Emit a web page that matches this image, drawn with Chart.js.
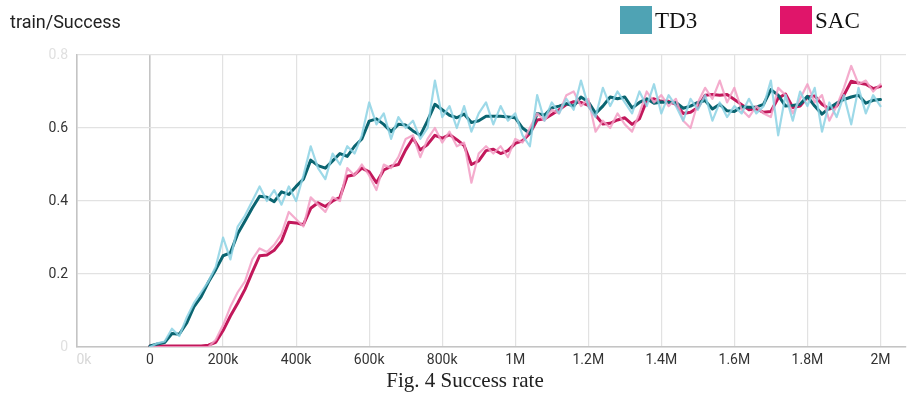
<!DOCTYPE html>
<html>
<head>
<meta charset="utf-8">
<script src="https://cdn.jsdelivr.net/npm/chart.js@4"></script>
<style>
  html, body { margin: 0; padding: 0; background: #fff; }
  body { width: 910px; height: 394px; position: relative; overflow: hidden; }
  #wrap { position: absolute; left: 0; top: 0; width: 910px; height: 394px; }
  #title { position: absolute; left: 10px; top: 11px; font: 18px Roboto, sans-serif; color: #222; line-height: 22px; }
  .leg { position: absolute; top: 6px; height: 30px; font: 23px "Liberation Serif", "Times New Roman", serif; color: #111; line-height: 30px; }
  .leg span { display: inline-block; width: 32px; height: 28px; vertical-align: top; margin-right: 3px; }
  #caption { position: absolute; left: 0; width: 930px; text-align: center; top: 368px; font: 21px "Liberation Serif", "Times New Roman", serif; color: #222; line-height: 24px; }
</style>
</head>
<body>
<div id="wrap"><canvas id="c" width="910" height="394"></canvas></div>
<div id="title">train/Success</div>
<div class="leg" style="left:620px"><span style="background:#4fa3b4"></span>TD3</div>
<div class="leg" style="left:780px"><span style="background:#e0156a"></span>SAC</div>
<div id="caption">Fig. 4 Success rate</div>
<script>
// Training step (thousands)
const stepsK = [0,20,40,60,80,100,120,140,160,180,200,220,240,260,280,300,320,340,360,380,
  400,420,440,460,480,500,520,540,560,580,600,620,640,660,680,700,720,740,760,780,
  800,820,840,860,880,900,920,940,960,980,1000,1020,1040,1060,1080,1100,1120,1140,1160,1180,
  1200,1220,1240,1260,1280,1300,1320,1340,1360,1380,1400,1420,1440,1460,1480,1500,1520,1540,1560,1580,
  1600,1620,1640,1660,1680,1700,1720,1740,1760,1780,1800,1820,1840,1860,1880,1900,1920,1940,1960,1980,2000];

// TD3 success rate: raw and smoothed
const td3Raw = [0.0,0.01,0.015,0.05,0.03,0.08,0.12,0.15,0.18,0.22,
  0.30,0.24,0.33,0.36,0.40,0.44,0.40,0.43,0.39,0.44,
  0.40,0.47,0.55,0.49,0.46,0.53,0.50,0.55,0.53,0.58,
  0.67,0.61,0.64,0.57,0.63,0.60,0.62,0.57,0.60,0.73,
  0.63,0.66,0.60,0.66,0.59,0.64,0.67,0.61,0.66,0.62,
  0.64,0.58,0.55,0.69,0.62,0.67,0.64,0.68,0.65,0.73,
  0.66,0.63,0.71,0.66,0.70,0.67,0.64,0.70,0.66,0.72,
  0.64,0.69,0.66,0.62,0.68,0.65,0.69,0.62,0.67,0.63,
  0.66,0.64,0.68,0.64,0.66,0.73,0.58,0.69,0.62,0.70,
  0.66,0.71,0.59,0.67,0.63,0.69,0.61,0.71,0.64,0.69,0.66];
const td3Smooth = [0.003,0.008,0.012,0.037,0.035,0.065,0.11,0.138,0.178,0.212,
  0.25,0.258,0.31,0.345,0.381,0.413,0.41,0.398,0.425,0.418,
  0.44,0.46,0.512,0.497,0.49,0.51,0.53,0.522,0.55,0.57,
  0.619,0.625,0.61,0.59,0.61,0.608,0.592,0.58,0.62,0.665,
  0.65,0.635,0.628,0.638,0.615,0.62,0.632,0.632,0.632,0.63,
  0.628,0.6,0.585,0.64,0.635,0.655,0.66,0.667,0.66,0.685,
  0.672,0.64,0.66,0.685,0.68,0.685,0.655,0.67,0.68,0.668,
  0.671,0.67,0.67,0.654,0.66,0.67,0.675,0.652,0.665,0.647,
  0.645,0.658,0.657,0.657,0.665,0.705,0.69,0.66,0.662,0.665,
  0.687,0.66,0.638,0.655,0.668,0.678,0.685,0.69,0.668,0.676,0.678];

// SAC success rate: raw and smoothed
const sacRaw = [0.0,0.0,0.0,0.0,0.0,0.0,0.0,0.0,0.0,0.02,
  0.06,0.11,0.15,0.18,0.24,0.27,0.26,0.28,0.31,0.37,
  0.35,0.33,0.41,0.39,0.37,0.41,0.40,0.49,0.47,0.50,
  0.47,0.43,0.50,0.49,0.52,0.57,0.58,0.52,0.57,0.60,
  0.56,0.59,0.55,0.56,0.45,0.53,0.55,0.53,0.55,0.52,
  0.57,0.56,0.60,0.64,0.62,0.65,0.64,0.69,0.70,0.66,
  0.68,0.59,0.62,0.60,0.64,0.61,0.59,0.64,0.70,0.67,
  0.69,0.66,0.68,0.62,0.60,0.67,0.71,0.68,0.73,0.67,
  0.71,0.65,0.63,0.66,0.64,0.63,0.71,0.69,0.64,0.68,
  0.72,0.67,0.69,0.62,0.66,0.71,0.77,0.72,0.73,0.70,0.72];
const sacSmooth = [0.003,0.003,0.003,0.003,0.003,0.003,0.003,0.003,0.005,0.013,
  0.045,0.085,0.12,0.158,0.205,0.25,0.252,0.265,0.29,0.342,
  0.34,0.335,0.38,0.395,0.385,0.4,0.41,0.468,0.472,0.49,
  0.48,0.45,0.485,0.495,0.5,0.54,0.572,0.54,0.555,0.58,
  0.572,0.582,0.568,0.552,0.5,0.51,0.538,0.542,0.53,0.538,
  0.558,0.565,0.585,0.622,0.625,0.637,0.65,0.664,0.672,0.67,
  0.662,0.635,0.611,0.613,0.622,0.628,0.61,0.625,0.675,0.68,
  0.673,0.673,0.665,0.64,0.643,0.656,0.69,0.692,0.69,0.692,
  0.678,0.664,0.65,0.653,0.643,0.645,0.682,0.693,0.656,0.66,
  0.685,0.688,0.665,0.652,0.66,0.69,0.728,0.723,0.72,0.708,0.714];

const xTicks = [-200,0,200,400,600,800,1000,1200,1400,1600,1800,2000];
const yTicks = [0,0.2,0.4,0.6,0.8];

const pts = vals => vals.map((v, i) => ({ x: stepsK[i] * 1000, y: v }));

function line(vals, color, width) {
  return { data: pts(vals), borderColor: color, borderWidth: width, pointRadius: 0,
           tension: 0, fill: false, borderJoinStyle: 'round', borderCapStyle: 'round' };
}

function xLabel(v) {
  if (v < 0) return '    0k';
  if (v === 0) return '0';
  if (v >= 1e6) return (v / 1e6) + 'M';
  return (v / 1000) + 'k';
}

new Chart(document.getElementById('c'), {
  type: 'line',
  data: {
    datasets: [
      line(td3Raw, 'rgba(140,210,228,0.85)', 2.2),
      line(sacRaw, 'rgba(242,158,196,0.85)', 2.2),
      line(td3Smooth, '#0a6470', 3),
      line(sacSmooth, '#c2185b', 3)
    ]
  },
  options: {
    responsive: false,
    animation: false,
    layout: { padding: { left: 0, top: 55, right: 4, bottom: 19 } },
    plugins: { legend: { display: false }, tooltip: { enabled: false } },
    scales: {
      x: {
        type: 'linear',
        min: -200000,
        max: 2070000,
        afterBuildTicks: ax => { ax.ticks = xTicks.map(v => ({ value: v * 1000 })); },
        afterFit: ax => { ax.height = 28; },
        ticks: {
          callback: v => xLabel(v),
          color: ctx => ctx.tick.value < 0 ? '#d8d8d8' : '#333',
          font: { family: 'Roboto', size: 14 },
          padding: 5,
          maxRotation: 0,
          autoSkip: false
        },
        grid: {
          color: ctx => (ctx.tick && ctx.tick.value === 0) ? '#c4c4c4' : '#e2e2e2',
          lineWidth: ctx => (ctx.tick && ctx.tick.value === 0) ? 1.6 : 1.2,
          drawTicks: false
        },
        border: { color: '#c4c4c4', width: 1.6 }
      },
      y: {
        min: 0,
        max: 0.8,
        afterBuildTicks: ax => { ax.ticks = yTicks.map(v => ({ value: v })); },
        afterFit: ax => { ax.width = 77; },
        ticks: {
          callback: v => v === 0 ? '0' : v.toFixed(1),
          color: ctx => (ctx.tick.value === 0 || ctx.tick.value === 0.8) ? '#e0e0e0' : '#333',
          font: { family: 'Roboto', size: 14 },
          padding: 9
        },
        grid: { color: '#e2e2e2', lineWidth: 1.2, drawTicks: false },
        border: { color: '#c4c4c4', width: 1.6 }
      }
    }
  }
});
</script>
</body>
</html>
